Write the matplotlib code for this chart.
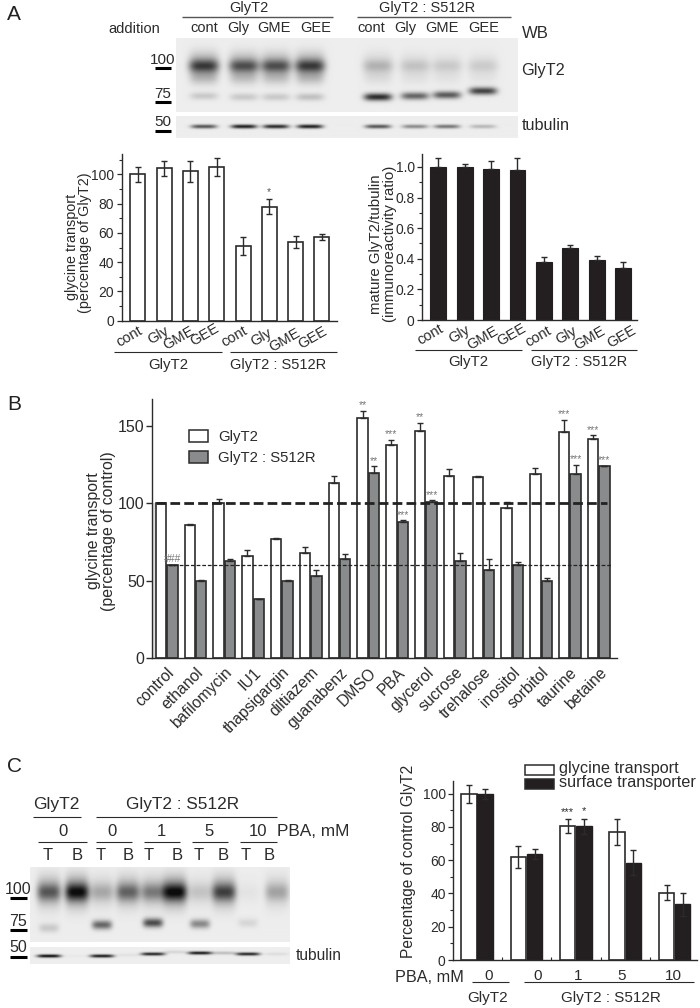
#!/usr/bin/env python3
"""GlyT2 / S512R figure: panels A, B, C with blots and bar charts"""
import numpy as np
import matplotlib
matplotlib.use('Agg')
import matplotlib.pyplot as plt
from matplotlib.patches import Rectangle
from matplotlib.ticker import MultipleLocator

plt.rcParams['font.family'] = ['Liberation Sans', 'DejaVu Sans']
plt.rcParams['text.color'] = '#2b2b2b'
plt.rcParams['axes.labelcolor'] = '#2b2b2b'
plt.rcParams['xtick.color'] = '#2b2b2b'
plt.rcParams['ytick.color'] = '#2b2b2b'

W, H = 700, 1008
INK = '#2b2b2b'

# Panel A, bar charts
a_labels = ['cont', 'Gly', 'GME', 'GEE', 'cont', 'Gly', 'GME', 'GEE']
a_transport = [100, 104, 102, 105, 51, 78, 54, 57]
a_transport_err = [5, 5, 7, 6, 6, 5, 4, 2]
a_mature = [1.0, 1.0, 0.99, 0.98, 0.38, 0.47, 0.39, 0.34]
a_mature_err = [0.06, 0.02, 0.05, 0.08, 0.03, 0.02, 0.03, 0.04]

# Panel B
b_labels = ['control', 'ethanol', 'bafilomycin', 'IU1', 'thapsigargin', 'diltiazem',
            'guanabenz', 'DMSO', 'PBA', 'glycerol', 'sucrose', 'trehalose',
            'inositol', 'sorbitol', 'taurine', 'betaine']
b_wt = [100, 86, 100, 66, 77, 68, 113, 155, 138, 147, 118, 117, 97, 119, 146, 142]
b_wt_err = [0.5, 0.5, 3, 4, 0.5, 4, 5, 5, 3, 5, 4, 1, 4, 4, 8, 2]
b_mut = [60, 50, 63, 38, 50, 53, 64, 120, 88, 101, 63, 57, 60, 50, 119, 124]
b_mut_err = [0.5, 0.5, 1, 0.5, 0.5, 4, 3, 4, 1, 1, 5, 7, 2, 2, 6, 0.5]
b_wt_marks = ['', '', '', '', '', '', '', '**', '***', '**', '', '', '', '', '***', '***']
b_mut_marks = ['###', '', '', '', '', '', '', '**', '***', '***', '', '', '', '', '***', '***']

# Panel C, bar chart
c_pba = ['0', '0', '1', '5', '10']
c_transport = [100, 62, 80.5, 77, 40.5]
c_transport_err = [5.5, 6.5, 4, 8, 4.5]
c_surface = [100, 64, 80.5, 58.5, 33.5]
c_surface_err = [3, 3, 4.5, 7.5, 7]
c_transport_marks = ['', '', '***', '', '']
c_surface_marks = ['', '', '*', '', '']

# Blot A: lane centre, band row, strength
blot_a_lanes = [204, 244, 276, 310, 378, 415, 447, 483]
blot_a_upper = [0.85, 0.75, 0.75, 0.85, 0.28, 0.20, 0.17, 0.16]
blot_a_lower = [0.16, 0.16, 0.16, 0.20, 0.85, 0.60, 0.65, 0.75]
blot_a_lower_y = [96, 97, 97, 97, 97, 96, 95, 91]
blot_a_tub = [0.7, 0.95, 0.9, 0.95, 0.7, 0.45, 0.55, 0.25]
# Blot C
blot_c_lanes = [49, 77, 102, 128, 153, 175, 200, 224, 248, 277]
blot_c_upper = [0.65, 0.98, 0.30, 0.60, 0.50, 1.0, 0.18, 0.75, 0.04, 0.32]
blot_c_lower = [0.16, 0.0, 0.60, 0.0, 0.72, 0.0, 0.45, 0.0, 0.10, 0.0]
blot_c_lower_y = [928, 928, 925, 925, 923, 923, 924, 924, 923, 923]
blot_c_tub = [0.95, 0.02, 0.9, 0.05, 0.85, 0.10, 0.9, 0.2, 0.85, 0.07]
blot_c_tub_y = [956, 956, 956, 955, 954, 952, 953, 953, 954, 954]

fig = plt.figure(figsize=(W / 100, H / 100), dpi=100, facecolor='white')


def px_x(x):
    return x / W


def px_y(y):
    return 1 - y / H


def axes_px(left, top, right, bottom):
    return fig.add_axes([left / W, 1 - bottom / H, (right - left) / W, (bottom - top) / H])


def txt(x, y, s, size=9.5, ha='center', va='center', **kw):
    fig.text(px_x(x), px_y(y), s, fontsize=size, ha=ha, va=va, **kw)


def rule(x0, x1, y, lw=0.8, color=INK):
    fig.add_artist(plt.Line2D([px_x(x0), px_x(x1)], [px_y(y), px_y(y)], lw=lw, color=color,
                              solid_capstyle='butt'))


def swatch(x0, y0, x1, y1, face):
    fig.add_artist(Rectangle((px_x(x0), px_y(y1)), (x1 - x0) / W, (y1 - y0) / H, facecolor=face,
                             edgecolor=INK, lw=1.1, transform=fig.transFigure))


def style_axes(ax):
    ax.spines['top'].set_visible(False)
    ax.spines['right'].set_visible(False)
    for s in ['left', 'bottom']:
        ax.spines[s].set_linewidth(1.0)
        ax.spines[s].set_color(INK)
    ax.patch.set_alpha(0)


def blot(left, top, right, bottom, bands, bg=0.93):
    xx, yy = np.meshgrid(np.arange(left, right) + 0.5, np.arange(top, bottom) + 0.5)
    dark = np.zeros_like(xx, dtype=float)
    for cx, cy, amp, sx, sy in bands:
        dark += amp * np.exp(-((xx - cx) / sx) ** 4 - ((yy - cy) / sy) ** 2)
    ax = axes_px(left, top, right, bottom)
    ax.imshow(bg - np.clip(dark, 0, 1) * (bg - 0.05), cmap='gray', vmin=0, vmax=1, aspect='auto')
    ax.axis('off')


# ---- Panel A blots
bands_a = []
for cx, up, lo, ly in zip(blot_a_lanes, blot_a_upper, blot_a_lower, blot_a_lower_y):
    bands_a.append((cx, 66, up * 0.5, 15, 6))
    bands_a.append((cx, 65, up * 0.45, 15, 12))
    bands_a.append((cx, 78, up * 0.18, 14, 7))
    bands_a.append((cx, ly, lo, 14, 3.8))
blot(176, 38, 518, 112, bands_a)
blot(176, 116, 518, 138, [(cx, 127, t, 13, 1.8) for cx, t in zip(blot_a_lanes, blot_a_tub)])

txt(7, 14, 'A', size=15, ha='left', color='#222222')
txt(249, 8, 'GlyT2', size=10.5)
rule(182, 333, 16.7, lw=1, color='#555555')
txt(427, 8, 'GlyT2 : S512R', size=10.5)
rule(357, 511, 16.7, lw=1, color='#555555')
txt(134, 29, 'addition', size=10.5)
for xc, s in zip([204, 238, 274, 316, 371, 405, 442, 484], a_labels):
    txt(xc, 28, s, size=10.5)
txt(535, 33, 'WB', size=12)
txt(543, 71, 'GlyT2', size=11.7)
txt(546, 126, 'tubulin', size=11.7)
for s, ly, by in [('100', 60, 68), ('75', 94, 102), ('50', 122, 131)]:
    txt(163, ly, s, size=11)
    rule(155, 171, by, lw=2.2, color='black')

# ---- Panel A left chart
ax = axes_px(121.7, 154.3, 337, 320.7)
x = np.arange(len(a_transport))
ax.bar(x, a_transport, width=0.57, facecolor='white', edgecolor=INK, linewidth=1.2)
ax.errorbar(x, a_transport, yerr=a_transport_err, fmt='none', ecolor=INK, elinewidth=1.0,
            capsize=2.5, capthick=1.0)
ax.set_xlim(-0.61, 7.57)
ax.set_ylim(0, 113.7)
ax.yaxis.set_major_locator(MultipleLocator(20))
ax.yaxis.set_minor_locator(MultipleLocator(10))
ax.set_xticks([])
ax.tick_params(axis='y', labelsize=10, length=3.5, width=0.9, pad=2)
ax.tick_params(axis='y', which='minor', length=2, width=0.8)
style_axes(ax)
txt(269, 192, '*', size=7.5, color='#555555')
for xc, yc, s in zip([129, 158, 179, 205, 234, 261, 285, 313],
                     [337, 335, 338, 335, 337, 337, 340, 338], a_labels):
    txt(xc, yc, s, size=10.5, rotation=30)
rule(114, 222, 352)
rule(230, 337, 352)
txt(168, 365, 'GlyT2', size=10.8)
txt(278, 365, 'GlyT2 : S512R', size=10.5)
txt(72, 247, 'glycine transport', size=10.4, rotation=90)
txt(85, 243, '(percentage of GlyT2)', size=10.4, rotation=90)

# ---- Panel A right chart
ax = axes_px(422.3, 154.3, 637.3, 320)
x = np.arange(len(a_mature))
ax.bar(x, a_mature, width=0.6, facecolor='#231f20', edgecolor='#231f20', linewidth=0.8)
ax.errorbar(x, a_mature, yerr=[np.zeros(len(x)), a_mature_err], fmt='none', ecolor=INK,
            elinewidth=1.0, capsize=2.5, capthick=1.0)
ax.set_xlim(-0.605, 7.54)
ax.set_ylim(0, 1.083)
ax.yaxis.set_major_locator(MultipleLocator(0.2))
ax.yaxis.set_minor_locator(MultipleLocator(0.1))
ax.set_yticks([0, 0.2, 0.4, 0.6, 0.8, 1.0], ['0', '0.2', '0.4', '0.6', '0.8', '1.0'])
ax.set_xticks([])
ax.tick_params(axis='y', labelsize=10, length=3.5, width=0.9, pad=2)
ax.tick_params(axis='y', which='minor', length=2, width=0.8)
style_axes(ax)
for xc, yc, s in zip([430, 459, 483, 512, 538, 566, 590, 622],
                     [335, 334, 338, 335, 337, 335, 338, 337], a_labels):
    txt(xc, yc, s, size=10.5, rotation=30)
rule(415, 522, 350)
rule(531, 637, 350)
txt(468, 362, 'GlyT2', size=10.8)
txt(579, 362, 'GlyT2 : S512R', size=10.5)
txt(376, 244, 'mature GlyT2/tubulin', size=10.8, rotation=90)
txt(390, 244, '(immunoreactivity ratio)', size=10.8, rotation=90)

# ---- Panel B
txt(7, 405, 'B', size=15, ha='left', color='#222222')
ax = axes_px(152.3, 399.3, 616.7, 658)
x = np.arange(len(b_labels))
ax.axvspan(-0.5, -0.37, ymax=100 / 167.4, color='#dddddd', lw=0)
ax.bar(x - 0.2, b_wt, width=0.36, facecolor='white', edgecolor=INK, linewidth=1.2)
ax.bar(x + 0.2, b_mut, width=0.36, facecolor='#8a8b8d', edgecolor=INK, linewidth=1.2)
ax.errorbar(x - 0.2, b_wt, yerr=[np.zeros(len(x)), b_wt_err], fmt='none', ecolor=INK,
            elinewidth=1.0, capsize=2.5, capthick=1.0)
ax.errorbar(x + 0.2, b_mut, yerr=[np.zeros(len(x)), b_mut_err], fmt='none', ecolor=INK,
            elinewidth=1.0, capsize=2.5, capthick=1.0)
ax.plot([-0.38, 15.28], [100, 100], color='#222222', lw=2.0, ls=(0, (3.5, 1.5)))
ax.plot([0.05, 15.42], [60, 60], color='#222222', lw=0.9, ls=(0, (3, 1.5)))
for i, (s, v, e) in enumerate(zip(b_wt_marks, b_wt, b_wt_err)):
    if s:
        ax.annotate(s, (i - 0.2, v + e), xytext=(0, 0.5), textcoords='offset points', ha='center',
                    va='bottom', fontsize=7.5, color='#777777')
for i, (s, v, e) in enumerate(zip(b_mut_marks, b_mut, b_mut_err)):
    if s:
        ax.annotate(s, (i + 0.2, v + e), xytext=(0, 0.5), textcoords='offset points', ha='center',
                    va='bottom', fontsize=7.5, color='#777777')
ax.set_xlim(-0.5, 15.625)
ax.set_ylim(0, 167.4)
ax.set_yticks([0, 50, 100, 150])
ax.set_xticks(x + 0.0, b_labels, rotation=45, ha='right', va='top', rotation_mode='anchor')
ax.tick_params(axis='x', length=0, pad=5, labelsize=11.3)
ax.tick_params(axis='y', labelsize=11.5, length=4, width=1, pad=1.5)
style_axes(ax)
swatch(189, 430, 208, 441.7, 'white')
swatch(189, 451, 208, 462.7, '#8a8b8d')
txt(218, 437, 'GlyT2', size=10.7, ha='left')
txt(218, 458, 'GlyT2 : S512R', size=10.7, ha='left')
txt(101, 531, 'glycine transport\n(percentage of control)', size=11.4, rotation=90, linespacing=0.92)

# ---- Panel C blots
bands_c = []
for cx, up, lo, ly in zip(blot_c_lanes, blot_c_upper, blot_c_lower, blot_c_lower_y):
    bands_c.append((cx, 893, up * 0.55, 12, 8))
    bands_c.append((cx, 892, up * 0.5, 12, 15))
    bands_c.append((cx, ly, lo, 10, 4.5))
blot(30, 867, 290, 942, bands_c)
blot(30, 947, 290, 964, [(cx, cy, t, 12, 1.7) for cx, cy, t in zip(blot_c_lanes, blot_c_tub_y, blot_c_tub)])

txt(7, 767, 'C', size=15, ha='left', color='#222222')
txt(56, 804, 'GlyT2', size=12.5)
rule(33, 81, 817)
txt(183, 804, 'GlyT2 : S512R', size=12.4)
rule(96, 277, 817)
for s, xc, x0, x1 in [('0', 63, 38, 87), ('0', 112, 96, 132), ('1', 161, 144, 180),
                      ('5', 209, 192, 228), ('10', 258, 240, 277)]:
    txt(xc, 831, s, size=12)
    rule(x0, x1, 842)
txt(277, 831, 'PBA, mM', size=12.4, ha='left')
for xc, s in zip([48, 77, 101, 128, 149, 177, 199, 223, 246, 269], list('TBTBTBTBTB')):
    txt(xc, 855, s, size=12)
for s, ly, by in [('100', 890, 898), ('75', 922, 930), ('50', 947, 957)]:
    txt(18, ly, s, size=11.5)
    rule(10, 27, by, lw=2.2, color='black')
txt(296, 955, 'tubulin', size=11.2, ha='left')

# ---- Panel C chart
ax = axes_px(453.3, 780.7, 696.7, 960)
x = np.arange(len(c_pba))
ax.bar(x - 0.164, c_transport, width=0.31, facecolor='white', edgecolor=INK, linewidth=1.2)
ax.bar(x + 0.164, c_surface, width=0.31, facecolor='#231f20', edgecolor='#231f20', linewidth=1.0)
ax.errorbar(x - 0.164, c_transport, yerr=c_transport_err, fmt='none', ecolor=INK, elinewidth=1.0,
            capsize=2.5, capthick=1.0)
ax.errorbar(x + 0.164, c_surface, yerr=c_surface_err, fmt='none', ecolor=INK, elinewidth=1.0,
            capsize=2.5, capthick=1.0)
for i in range(len(c_pba)):
    if c_transport_marks[i]:
        ax.annotate(c_transport_marks[i], (i - 0.164, c_transport[i] + c_transport_err[i]),
                    xytext=(0, 2), textcoords='offset points', ha='center', va='bottom', fontsize=8)
    if c_surface_marks[i]:
        ax.annotate(c_surface_marks[i], (i + 0.164, c_surface[i] + c_surface_err[i]),
                    xytext=(0, 2), textcoords='offset points', ha='center', va='bottom', fontsize=8)
ax.set_xlim(-0.48, 4.447)
ax.set_ylim(0, 107.8)
ax.yaxis.set_major_locator(MultipleLocator(20))
ax.yaxis.set_minor_locator(MultipleLocator(10))
ax.set_xticks(x[:-1] + 0.5)
ax.set_xticklabels([])
ax.tick_params(axis='x', direction='in', length=2, width=0.8)
ax.tick_params(axis='y', labelsize=10, length=3.5, width=0.9, pad=2)
ax.tick_params(axis='y', which='minor', length=2, width=0.8)
style_axes(ax)
swatch(525, 765, 554, 775, 'white')
swatch(525, 779, 554, 789, '#231f20')
txt(559, 769, 'glycine transport', size=11.7, ha='left')
txt(559, 783, 'surface transporter', size=11.7, ha='left')
txt(409, 861, 'Percentage of control GlyT2', size=11.2, rotation=90)
txt(395, 977, 'PBA, mM', size=11.7, ha='left')
for xc, s in zip([489, 538, 578, 622, 673], c_pba):
    txt(xc, 976, s, size=11)
rule(472, 509, 982)
rule(524, 694, 982)
txt(488, 998, 'GlyT2', size=11)
txt(611, 998, 'GlyT2 : S512R', size=11)

fig.savefig('out.png', dpi=100, facecolor='white')
